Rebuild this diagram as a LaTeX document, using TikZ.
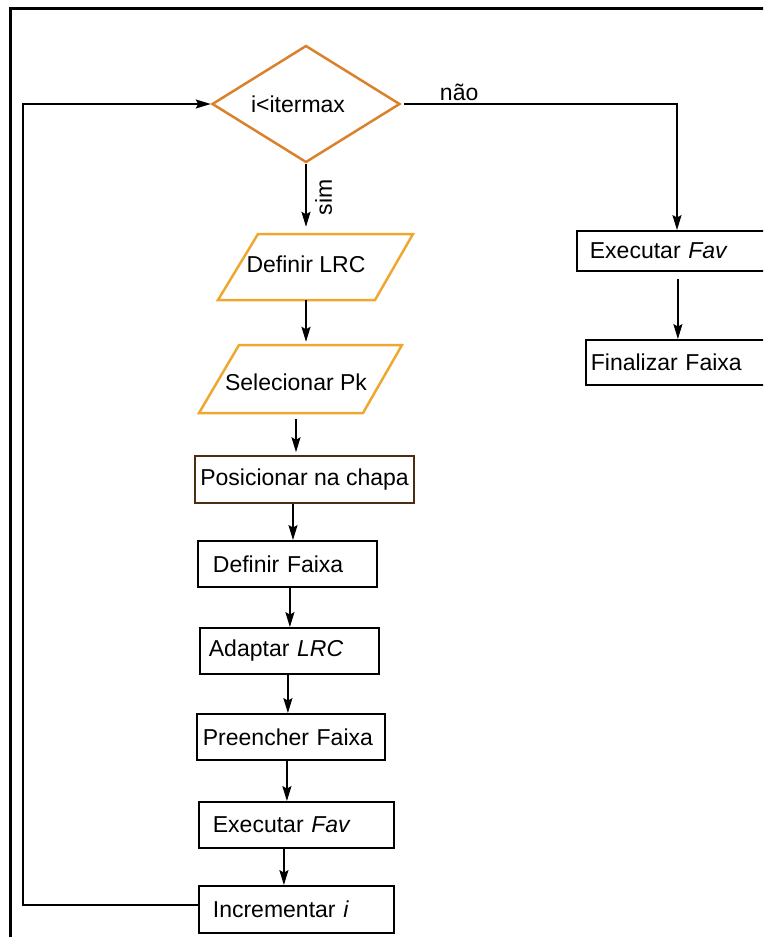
\documentclass[tikz,border=0pt]{standalone}
\usepackage{fontspec}
\setmainfont{Liberation Sans}
\usetikzlibrary{arrows.meta,shapes.geometric}
\definecolor{decisioncol}{HTML}{D9822B}
\definecolor{iocol}{HTML}{EEA830}
\definecolor{brownline}{HTML}{4B2E12}

\begin{document}
\begin{tikzpicture}[x=1pt,y=-1pt,
  every node/.style={font=\fontsize{23}{27}\selectfont},
  proc/.style={draw=black, line width=1.8pt, rectangle, align=left, inner ysep=0pt},
  decision/.style={diamond, draw=decisioncol, line width=2.5pt, aspect=1.6,
    minimum width=188pt, minimum height=117pt, inner sep=0pt},
  iotext/.style={inner sep=0pt},
  iobox/.style={draw=iocol, line width=2.5pt, line join=miter},
  arr/.style={-{Stealth[length=15pt,width=9pt,inset=2.5pt]}, line width=1.8pt},
  flow/.style={line width=1.8pt},
  frame/.style={line width=3pt}
]
\useasboundingbox (0,0) rectangle (763,937);
\clip (0,0) rectangle (763,937);

% outer frame (left and top edges)
\draw[frame] (10.7,945) -- (10.7,8) -- (775,8);

% decision (label set slightly left of centre)
\node[decision] (dia) at (306,104) {\hspace*{-16pt}i<itermax};

% input/output blocks: text node plus parallelogram outline
\node[iotext, minimum height=66pt] (lrc) at (306,264) {Definir LRC};
\draw[iobox] ([shift={(-88,36)}]lrc.center) -- ([shift={(-48,-30)}]lrc.center)
  -- ([shift={(107,-30)}]lrc.center) -- ([shift={(69,36)}]lrc.center) -- cycle;

\node[iotext, minimum height=68pt] (sel) at (296,382) {Selecionar Pk};
\draw[iobox] ([shift={(-97,31)}]sel.center) -- ([shift={(-57,-37)}]sel.center)
  -- ([shift={(106,-37)}]sel.center) -- ([shift={(67,31)}]sel.center) -- cycle;

% process blocks, left column
\node[proc, draw=brownline, line width=1.5pt, align=center, minimum width=219pt,
  minimum height=47pt, inner xsep=0pt] (pos) at (304.5,479.5) {Posicionar na chapa};
\node[proc, anchor=west, minimum height=46pt, text width=149pt, inner xsep=15pt]
  (faixa) at (197,564) {Definir Faixa};
\node[proc, anchor=west, minimum height=46pt, text width=161pt, inner xsep=9pt]
  (adapt) at (199,651) {Adaptar \textit{LRC}};
\node[proc, anchor=west, minimum height=46pt, text width=176pt, inner xsep=6pt]
  (preen) at (196,737) {Preencher Faixa};
\node[proc, anchor=west, minimum height=46pt, text width=167pt, inner xsep=14pt]
  (exl) at (198,825) {Executar \textit{Fav}};
\node[proc, anchor=west, minimum height=47pt, text width=167pt, inner xsep=14pt]
  (inc) at (198,909.5) {Incrementar \textit{i}};

% process blocks, right column
\node[proc, anchor=west, minimum height=40pt, text width=184pt, inner xsep=13pt]
  (exr) at (576,251) {Executar \textit{Fav}};
\node[proc, anchor=west, minimum height=45pt, text width=200pt, inner xsep=5pt]
  (fin) at (585,362.5) {Finalizar Faixa};

% helper points for vertical connectors
\coordinate (loopx) at (23,0);
\coordinate (nox) at (677,0);
\path ([xshift=-11.5pt]pos.south) coordinate (a1);
\path ([xshift=2.5pt]faixa.south) coordinate (a2);
\path ([xshift=-1.5pt]adapt.south) coordinate (a3);
\path ([xshift=-4pt]preen.south) coordinate (a4);
\path ([xshift=-12.5pt]exl.south) coordinate (a5);

% connectors
\draw[arr, shorten >=4pt] (dia.south) -- node[right=3pt, rotate=90, anchor=north, yshift=-2pt] (simlbl) {sim} (dia.south |- lrc.north);
\draw[arr, shorten <=3pt, shorten >=6pt] (lrc.south) -- (lrc.south |- sel.north);
\draw[arr, shorten <=3pt, shorten >=3pt] (sel.south) -- (sel.south |- pos.north);
\draw[arr] (a1) -- (a1 |- faixa.north);
\draw[arr] (a2) -- (a2 |- adapt.north);
\draw[arr] (a3) -- (a3 |- preen.north);
\draw[arr] (a4) -- (a4 |- exl.north);
\draw[arr] (a5) -- (a5 |- inc.north);

\draw[arr, shorten <=3pt] (dia.east) -- (dia.east -| nox)
  node[pos=0.21, above=-1pt] (naolbl) {não} -- (exr.north -| nox);
\path ([xshift=-4pt]exr.south) coordinate (b1);
\draw[arr, shorten <=7pt] (b1) -- (b1 |- fin.north);

\path ([yshift=4.5pt]inc.west) coordinate (c1);
\draw[arr] (c1) -- (c1 -| loopx) -- (loopx |- dia.west) -- (dia.west);
\end{tikzpicture}
\end{document}
